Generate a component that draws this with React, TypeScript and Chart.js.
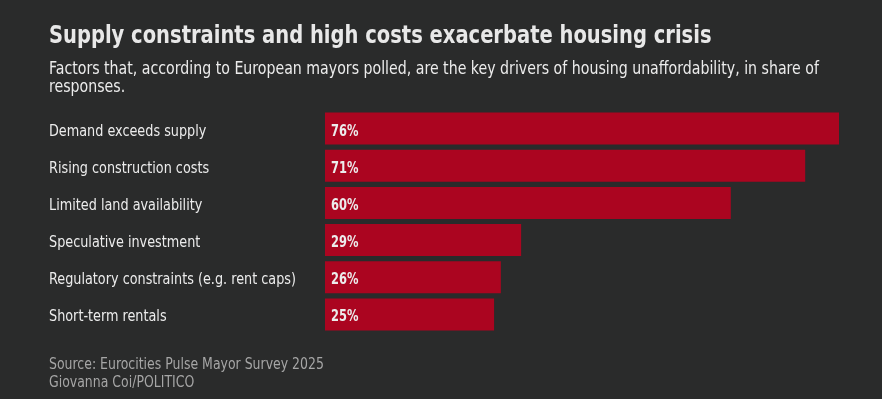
import React, { useEffect, useRef } from "react";
import { Chart, registerables } from "chart.js";

Chart.register(...registerables);

const categories = [
  "Demand exceeds supply",
  "Rising construction costs",
  "Limited land availability",
  "Speculative investment",
  "Regulatory constraints (e.g. rent caps)",
  "Short-term rentals",
];
const shares = [76, 71, 60, 29, 26, 25];
const valueLabels = ["76%", "71%", "60%", "29%", "26%", "25%"];
const titleText = "Supply constraints and high costs exacerbate housing crisis";
const subtitleLines = [
  "Factors that, according to European mayors polled, are the key drivers of housing unaffordability, in share of",
  "responses.",
];
const sourceLines = ["Source: Eurocities Pulse Mayor Survey 2025", "Giovanna Coi/POLITICO"];

const FONT = "'Liberation Sans Narrow', 'DejaVu Sans Condensed', sans-serif";
const BG = "#2a2b2b";
const BAR = "#ab0520";
const TEXT = "#ececec";
const MUTED = "#a6a6a6";

function drawScaled(ctx: any, text: string, x: number, y: number, font: string, color: string, sx: number) {
  ctx.save();
  ctx.font = font;
  ctx.fillStyle = color;
  ctx.textAlign = "left";
  ctx.textBaseline = "alphabetic";
  ctx.translate(x, y);
  ctx.scale(sx, 1);
  ctx.fillText(text, 0, 0);
  ctx.restore();
}

const bgPlugin = {
  id: "bg",
  beforeDraw(chart: any) {
    const ctx = chart.ctx;
    ctx.save();
    ctx.fillStyle = BG;
    ctx.fillRect(0, 0, chart.width, chart.height);
    ctx.restore();
  },
};

const textPlugin = {
  id: "texts",
  afterDatasetsDraw(chart: any) {
    const ctx = chart.ctx;
    const meta = chart.getDatasetMeta(0);
    const yScale = chart.scales.y;
    categories.forEach((c, i) => {
      const yc = yScale.getPixelForValue(i);
      drawScaled(ctx, c, 49, yc + 7, `15px ${FONT}`, TEXT, 0.95);
    });
    meta.data.forEach((bar: any, i: number) => {
      const left = Math.min(bar.base, bar.x);
      drawScaled(ctx, valueLabels[i], left + 6, bar.y + 7, `bold 15px ${FONT}`, TEXT, 0.85);
    });
    drawScaled(ctx, titleText, 49, 43, `bold 25px ${FONT}`, "#e8e8e8", 0.868);
    subtitleLines.forEach((l, i) => {
      drawScaled(ctx, l, 49, 74 + i * 18, `17px ${FONT}`, TEXT, 0.926);
    });
    sourceLines.forEach((l, i) => {
      drawScaled(ctx, l, 49, 369 + i * 18, `15px ${FONT}`, MUTED, 0.926);
    });
  },
};

export default function App() {
  const ref = useRef<HTMLCanvasElement>(null);
  useEffect(() => {
    document.body.style.margin = "0";
    document.body.style.background = BG;
    const chart = new Chart(ref.current!, {
      type: "bar",
      data: {
        labels: categories,
        datasets: [
          {
            data: shares,
            backgroundColor: BAR,
            borderWidth: 0,
            barPercentage: 0.86,
            categoryPercentage: 1,
          },
        ],
      },
      options: {
        indexAxis: "y",
        animation: false,
        responsive: false,
        maintainAspectRatio: false,
        layout: { padding: { left: 325, right: 43, top: 110, bottom: 66 } },
        plugins: {
          legend: { display: false },
          tooltip: { enabled: false },
        },
        scales: {
          x: { display: false, min: 0, max: 76 },
          y: { display: false },
        },
      },
      plugins: [bgPlugin, textPlugin],
    });
    return () => chart.destroy();
  }, []);

  return (
    <div style={{ position: "relative", width: 882, height: 399, background: BG, overflow: "hidden" }}>
      <canvas ref={ref} width={882} height={399} style={{ position: "absolute", left: 0, top: 0 }} />
    </div>
  );
}
